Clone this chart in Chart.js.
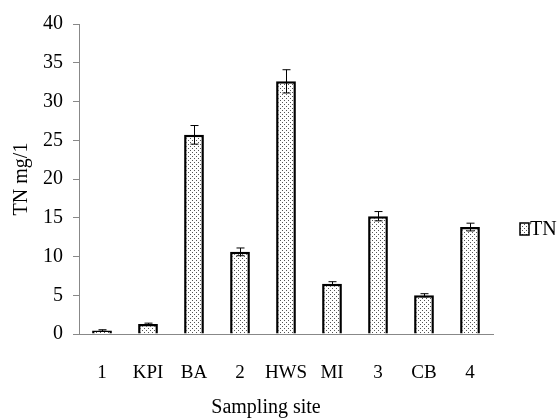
<!DOCTYPE html>
<html>
<head>
<meta charset="utf-8">
<script src="https://cdn.jsdelivr.net/npm/chart.js@4"></script>
<style>
  html, body { margin: 0; padding: 0; background: #fff; }
  #wrap { width: 558px; height: 419px; }
</style>
</head>
<body>
<div id="wrap"><canvas id="tnChart" width="558" height="419"></canvas></div>
<script>
const sites = ['1', 'KPI', 'BA', '2', 'HWS', 'MI', '3', 'CB', '4'];
const tnValues = [0.45, 1.3, 25.7, 10.6, 32.6, 6.5, 15.2, 5.0, 13.8];
const tnErrors = [0.1, 0.1, 1.2, 0.5, 1.5, 0.25, 0.6, 0.2, 0.5];
const yTicks = [0, 5, 10, 15, 20, 25, 30, 35, 40];

const serif = '"Liberation Serif", "DejaVu Serif", serif';

// dotted fill like the original
function dotPattern() {
    const c = document.createElement('canvas');
    c.width = 4; c.height = 4;
    const g = c.getContext('2d');
    g.fillStyle = '#fff';
    g.fillRect(0, 0, 4, 4);
    g.fillStyle = '#555';
    g.fillRect(0, 0, 1, 1);
    g.fillRect(2, 2, 1, 1);
    return g.createPattern(c, 'repeat');
}

document.addEventListener('DOMContentLoaded', () => {
    const ctx = document.getElementById('tnChart').getContext('2d');
    const fill = dotPattern();

    const errorBars = {
        id: 'errorBars',
        afterDatasetsDraw(chart) {
            const meta = chart.getDatasetMeta(0);
            const y = chart.scales.y;
            const c = chart.ctx;
            c.save();
            c.strokeStyle = '#000';
            c.lineWidth = 1;
            meta.data.forEach((bar, i) => {
                const v = tnValues[i], e = tnErrors[i];
                const x = Math.round(bar.x) + 0.5;
                const top = y.getPixelForValue(v + e);
                const bot = y.getPixelForValue(v - e);
                c.beginPath();
                c.moveTo(x, top); c.lineTo(x, bot);
                c.moveTo(x - 4, top); c.lineTo(x + 4, top);
                c.moveTo(x - 4, bot); c.lineTo(x + 4, bot);
                c.stroke();
            });
            c.restore();
        }
    };

    const extras = {
        id: 'extras',
        afterDraw(chart) {
            const c = chart.ctx;
            c.save();
            // x axis title
            c.fillStyle = '#000';
            c.font = '20px ' + serif;
            c.textAlign = 'center';
            c.textBaseline = 'alphabetic';
            c.fillText('Sampling site', 266, 413);
            // legend
            c.fillStyle = fill;
            c.fillRect(520, 223, 9, 12);
            c.strokeStyle = '#000';
            c.lineWidth = 1.5;
            c.strokeRect(520, 223, 9, 12);
            c.fillStyle = '#000';
            c.textAlign = 'left';
            c.textBaseline = 'middle';
            c.fillText(chart.data.datasets[0].label, 530, 230);
            c.restore();
        }
    };

    new Chart(ctx, {
        type: 'bar',
        data: {
            labels: sites,
            datasets: [{
                label: 'TN',
                data: tnValues,
                backgroundColor: fill,
                borderColor: '#000',
                borderWidth: 2.5,
                borderSkipped: 'bottom',
                categoryPercentage: 1,
                barPercentage: 0.43
            }]
        },
        options: {
            responsive: false,
            animation: false,
            layout: { padding: { left: 0, top: 24, right: 65, bottom: 0 } },
            plugins: {
                legend: { display: false },
                tooltip: { enabled: false }
            },
            scales: {
                x: {
                    afterFit: s => { s.height = 85; },
                    grid: { display: true, drawOnChartArea: false, drawTicks: false, color: 'rgba(0,0,0,0)' },
                    border: { display: true, color: '#888', width: 1 },
                    ticks: {
                        color: '#000', padding: 28, autoSkip: false,
                        maxRotation: 0, minRotation: 0,
                        font: { family: serif, size: 19 }
                    }
                },
                y: {
                    min: 0,
                    max: 40,
                    afterFit: s => { s.width = 79; },
                    afterBuildTicks: s => { s.ticks = yTicks.map(v => ({ value: v })); },
                    grid: { drawOnChartArea: false, drawTicks: true, tickLength: 6, color: '#888' },
                    border: { display: true, color: '#888', width: 1 },
                    ticks: { color: '#000', padding: 10, font: { family: serif, size: 20 } },
                    title: {
                        display: true,
                        text: 'TN mg/1',
                        color: '#000',
                        padding: { top: 10, bottom: 0 },
                        font: { family: serif, size: 20 }
                    }
                }
            }
        },
        plugins: [errorBars, extras]
    });
});
</script>
</body>
</html>
